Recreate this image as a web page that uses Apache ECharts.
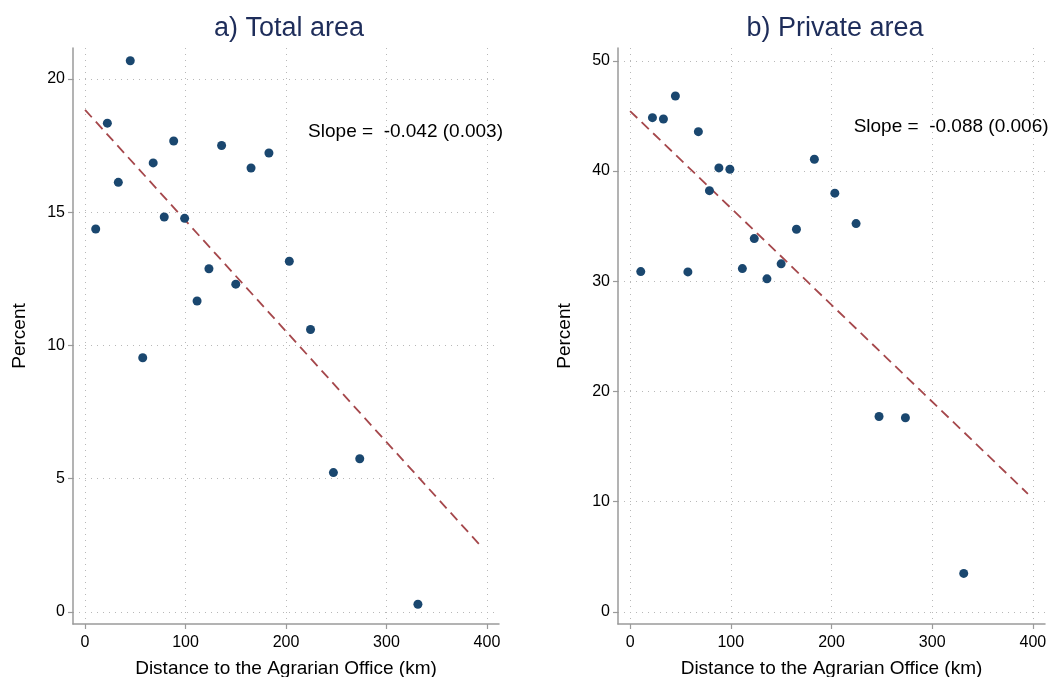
<!DOCTYPE html>
<html>
<head>
<meta charset="utf-8">
<script src="https://cdn.jsdelivr.net/npm/echarts@6/dist/echarts.min.js"></script>
<style>
  html, body { margin: 0; padding: 0; background: #fff; }
  #main { width: 1060px; height: 677px; }
</style>
</head>
<body>
<div id="main"></div>
<script>
// distance to the Agrarian Office (km), same for both panels
const distance = [10.6, 22.2, 33.1, 45.0, 57.4, 67.8, 78.8, 88.2, 99.1, 111.5, 123.3, 135.9, 150.0, 165.2, 183.0, 203.3, 224.4, 247.2, 273.4, 331.3];
const totalPct = [14.37, 18.34, 16.12, 20.68, 9.54, 16.85, 14.82, 17.67, 14.77, 11.67, 12.88, 17.5, 12.3, 16.66, 17.22, 13.16, 10.6, 5.23, 5.75, 0.29];
const privatePct = [30.88, 44.84, 44.72, 46.81, 30.85, 43.57, 38.22, 40.28, 40.16, 31.15, 33.87, 30.22, 31.58, 34.72, 41.07, 37.99, 35.23, 17.73, 17.62, 3.5];

// fitted lines (end points)
const fitX = [0, 395];
const fitTotal = [18.84, 2.43];
const fitPrivate = [45.44, 10.72];

const titles = ['a) Total area', 'b) Private area'];
const slopeText = ['Slope =  -0.042 (0.003)', 'Slope =  -0.088 (0.006)'];
const slopePos = [[222, 18.0], [222, 44.0]];

const xTicks = [0, 100, 200, 300, 400];
const yTicksTotal = [0, 5, 10, 15, 20];
const yTicksPrivate = [0, 10, 20, 30, 40, 50];

const font = 'Liberation Sans, Arial, sans-serif';
const navy = '#1a476f';
const fitColor = '#a5474b';
const axisGray = '#9a9a9a';

const chart = echarts.init(document.getElementById('main'));

function xAxisFor(i) {
  return {
    type: 'value', gridIndex: i, min: -12, max: 412,
    name: 'Distance to the Agrarian Office (km)', nameLocation: 'middle', nameGap: 35,
    nameTextStyle: { fontFamily: font, fontSize: 19, color: '#000' },
    axisLine: { show: true, onZero: false, lineStyle: { color: axisGray, width: 1.5 } },
    axisTick: { show: true, customValues: xTicks, length: 5, lineStyle: { color: axisGray, width: 1.2 } },
    axisLabel: { customValues: xTicks, fontFamily: font, fontSize: 16, color: '#000', margin: 11 },
    splitLine: { show: true, lineStyle: { color: '#b8b8b8', type: [1, 5], width: 1 } }
  };
}
function yAxisFor(i, min, max, ticks) {
  return {
    type: 'value', gridIndex: i, min: min, max: max,
    name: 'Percent', nameLocation: 'middle', nameGap: 44,
    nameTextStyle: { fontFamily: font, fontSize: 19, color: '#000' },
    axisLine: { show: true, onZero: false, lineStyle: { color: axisGray, width: 1.5 } },
    axisTick: { show: true, customValues: ticks, length: 5, lineStyle: { color: axisGray, width: 1.2 } },
    axisLabel: { customValues: ticks, fontFamily: font, fontSize: 16, color: '#000', margin: 8 },
    splitLine: { show: true, lineStyle: { color: '#b8b8b8', type: [1, 5], width: 1 } }
  };
}

function pts(ys) { return distance.map((d, k) => [d, ys[k]]); }

const titleStyle = { fontFamily: font, fontSize: 27, fontWeight: 'normal', color: '#1e2d5a' };

chart.setOption({
  animation: false,
  backgroundColor: '#fff',
  title: [
    { text: titles[0], left: 284, top: 10, textAlign: 'center', textStyle: titleStyle },
    { text: titles[1], left: 830, top: 10, textAlign: 'center', textStyle: titleStyle }
  ],
  grid: [
    { left: 73, top: 48, width: 426, height: 576, outerBoundsMode: 'none' },
    { left: 618, top: 48, width: 427, height: 576, outerBoundsMode: 'none' }
  ],
  xAxis: [xAxisFor(0), xAxisFor(1)],
  yAxis: [
    yAxisFor(0, -0.45, 21.16, yTicksTotal),
    yAxisFor(1, -1.09, 51.16, yTicksPrivate)
  ],
  series: [
    { type: 'line', xAxisIndex: 0, yAxisIndex: 0, data: fitX.map((x, k) => [x, fitTotal[k]]),
      showSymbol: false, lineStyle: { color: fitColor, width: 1.8, type: [10, 6] }, z: 2 },
    { type: 'line', xAxisIndex: 1, yAxisIndex: 1, data: fitX.map((x, k) => [x, fitPrivate[k]]),
      showSymbol: false, lineStyle: { color: fitColor, width: 1.8, type: [10, 6] }, z: 2 },
    { type: 'scatter', xAxisIndex: 0, yAxisIndex: 0, data: pts(totalPct),
      symbolSize: 9, itemStyle: { color: navy, opacity: 1 }, z: 3 },
    { type: 'scatter', xAxisIndex: 1, yAxisIndex: 1, data: pts(privatePct),
      symbolSize: 9, itemStyle: { color: navy, opacity: 1 }, z: 3 },
    { type: 'scatter', xAxisIndex: 0, yAxisIndex: 0, data: [slopePos[0]], symbolSize: 0,
      itemStyle: { opacity: 1 },
      label: { show: true, position: 'right', distance: 0, formatter: slopeText[0],
        fontFamily: font, fontSize: 19, color: '#000' }, silent: true },
    { type: 'scatter', xAxisIndex: 1, yAxisIndex: 1, data: [slopePos[1]], symbolSize: 0,
      itemStyle: { opacity: 1 },
      label: { show: true, position: 'right', distance: 0, formatter: slopeText[1],
        fontFamily: font, fontSize: 19, color: '#000' }, silent: true }
  ]
});
</script>
</body>
</html>
